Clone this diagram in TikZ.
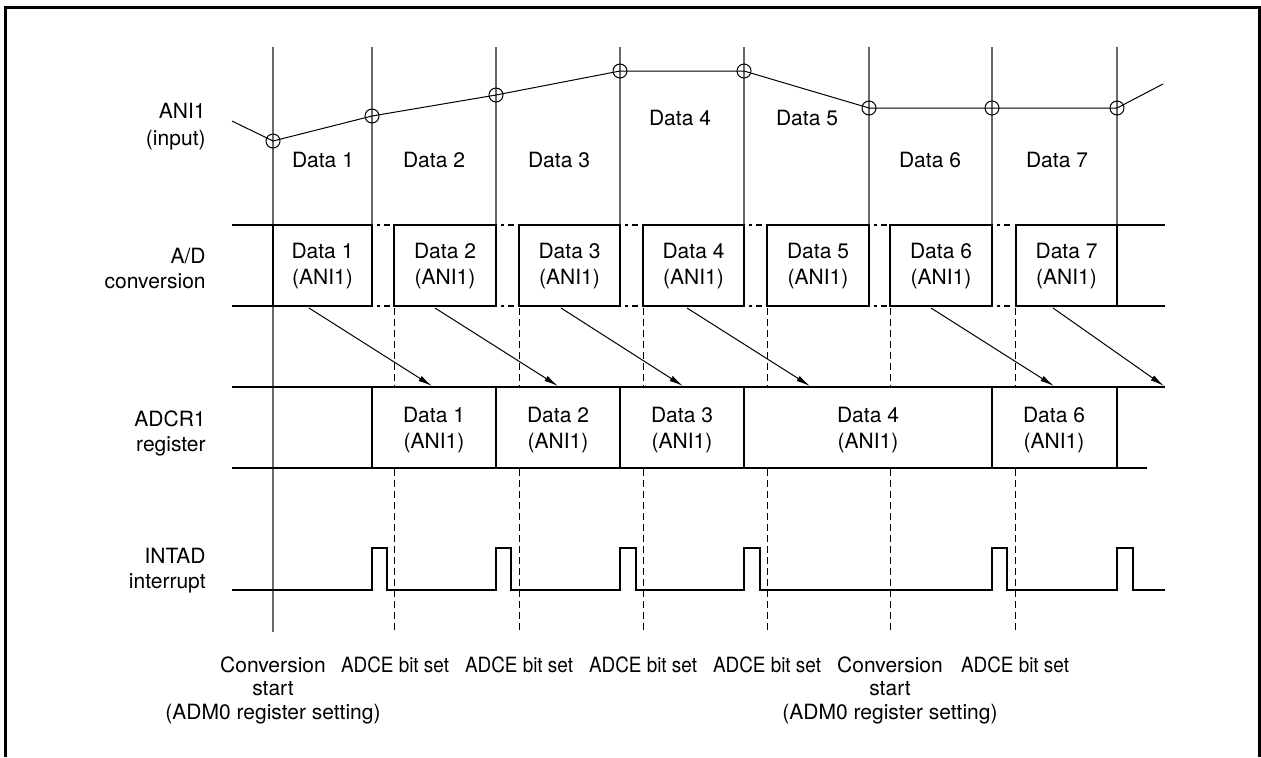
\documentclass[tikz,border=0pt]{standalone}
\usepackage{fontspec}
\setmainfont{TeX Gyre Heros}
\newfontfamily\narrowfont[FakeStretch=0.9]{TeX Gyre Heros}
\usepackage{tikz}
\usetikzlibrary{arrows.meta}
\definecolor{gridgray}{RGB}{105,105,105}

\begin{document}
\begin{tikzpicture}[x=0.5pt, y=-0.5pt,
  font=\fontsize{10.5}{12.5}\selectfont,
  sig/.style={line width=1.45pt},
  gapline/.style={line width=1.45pt, dash pattern=on 0pt off 2.5pt on 1.5pt off 2pt on 3pt off 0pt},
  gridline/.style={gridgray, line width=0.55pt},
  adce/.style={line width=0.5pt, dash pattern=on 3.5pt off 2pt},
  xfer/.style={line width=0.5pt, -{Latex[length=7pt,width=3pt]}},
  smp/.style={circle, draw, line width=0.5pt, minimum size=7pt, inner sep=0pt},
  lbl/.style={anchor=east, align=right, inner sep=0pt},
  dat/.style={align=center, inner sep=0pt, font=\fontsize{10.5}{13}\selectfont},
  bottomtext/.style={anchor=north, align=center, inner sep=0pt, font=\fontsize{10.5}{11.75}\selectfont},
  bittext/.style={bottomtext, font=\narrowfont\fontsize{10.5}{11.75}\selectfont}]
\useasboundingbox (0,0) rectangle (1261,757);
\draw[line width=1.5pt] (5,757) |- (1259,7) -- (1259,757);

% row labels
\node[lbl, font=\fontsize{10.5}{13.5}\selectfont] (l1) at (206,127) {ANI1\\(input)};
\node[lbl] (l2) at (206,268) {A/D\\conversion};
\node[lbl] (l3) at (206,433) {ADCR1\\register};
\node[lbl] (l4) at (206,571) {INTAD\\interrupt};

% sampling instants
\draw[gridline] (273,47) -- (273,632);
\draw[gridline] (372,47) -- (372,225);
\draw[gridline] (496,47) -- (496,225);
\draw[gridline] (620,47) -- (620,225);
\draw[gridline] (744,47) -- (744,225);
\draw[gridline] (869,47) -- (869,225);
\draw[gridline] (992,47) -- (992,225);
\draw[gridline] (1117,47) -- (1117,225);

% ANI1 input
\coordinate (w0) at (232,121);
\coordinate (w9) at (1163,84);
\node[smp] (p1) at (273,141) {};
\node[smp] (p2) at (372,116) {};
\node[smp] (p3) at (496,95) {};
\node[smp] (p4) at (620,71) {};
\node[smp] (p5) at (744,71) {};
\node[smp] (p6) at (869,108) {};
\node[smp] (p7) at (992,108) {};
\node[smp] (p8) at (1117,108) {};
\draw[line width=0.5pt] (w0) -- (p1.center) -- (p2.center) -- (p3.center) -- (p4.center)
  -- (p5.center) -- (p6.center) -- (p7.center) -- (p8.center) -- (w9);
\node (in1) at (323,160) {Data 1};
\node (in2) at (434,160) {Data 2};
\node (in3) at (559,160) {Data 3};
\node (in4) at (680,118) {Data 4};
\node (in5) at (807,118) {Data 5};
\node (in6) at (930,160) {Data 6};
\node (in7) at (1057,160) {Data 7};

% A/D conversion
\draw[sig] (232,225) -- (273,225);
\draw[sig] (232,306) -- (273,306);
\draw[sig] (273,225) rectangle (372,306);
\draw[gapline] (372,225) -- (394,225);
\draw[gapline] (372,306) -- (394,306);
\draw[sig] (394,225) rectangle (496,306);
\draw[gapline] (496,225) -- (519,225);
\draw[gapline] (496,306) -- (519,306);
\draw[sig] (519,225) rectangle (620,306);
\draw[gapline] (620,225) -- (643,225);
\draw[gapline] (620,306) -- (643,306);
\draw[sig] (643,225) rectangle (744,306);
\draw[gapline] (744,225) -- (767,225);
\draw[gapline] (744,306) -- (767,306);
\draw[sig] (767,225) rectangle (869,306);
\draw[gapline] (869,225) -- (890,225);
\draw[gapline] (869,306) -- (890,306);
\draw[sig] (890,225) rectangle (992,306);
\draw[gapline] (992,225) -- (1016,225);
\draw[gapline] (992,306) -- (1016,306);
\draw[sig] (1016,225) rectangle (1117,306);
\draw[sig] (1117,225) -- (1165,225);
\draw[sig] (1117,306) -- (1165,306);
\node[dat] (ad1) at (322.5,266) {Data 1\\(ANI1)};
\node[dat] (ad2) at (445,266) {Data 2\\(ANI1)};
\node[dat] (ad3) at (569.5,266) {Data 3\\(ANI1)};
\node[dat] (ad4) at (693.5,266) {Data 4\\(ANI1)};
\node[dat] (ad5) at (818,266) {Data 5\\(ANI1)};
\node[dat] (ad6) at (941,266) {Data 6\\(ANI1)};
\node[dat] (ad7) at (1066.5,266) {Data 7\\(ANI1)};

% ADCR1 register
\draw[sig] (232,387) -- (1165,387);
\draw[sig] (232,468) -- (1147,468);
\draw[sig] (372,387) -- (372,468);
\draw[sig] (496,387) -- (496,468);
\draw[sig] (620,387) -- (620,468);
\draw[sig] (744,387) -- (744,468);
\draw[sig] (992,387) -- (992,468);
\draw[sig] (1117,387) -- (1117,468);
\node[dat] (r1) at (434,430) {Data 1\\(ANI1)};
\node[dat] (r2) at (558,430) {Data 2\\(ANI1)};
\node[dat] (r3) at (682,430) {Data 3\\(ANI1)};
\node[dat] (r4) at (868,430) {Data 4\\(ANI1)};
\node[dat] (r6) at (1054,430) {Data 6\\(ANI1)};

% transfers to ADCR1
\coordinate (s1) at (309,308);  \coordinate (e1) at (432,386);
\coordinate (s2) at (435,308);  \coordinate (e2) at (558,386);
\coordinate (s3) at (561,308);  \coordinate (e3) at (683,386);
\coordinate (s4) at (687,308);  \coordinate (e4) at (810,386);
\coordinate (s6) at (931,308);  \coordinate (e6) at (1054,386);
\coordinate (s7) at (1053,308); \coordinate (e7) at (1164,386);
\draw[xfer] (s1) -- (e1);
\draw[xfer] (s2) -- (e2);
\draw[xfer] (s3) -- (e3);
\draw[xfer] (s4) -- (e4);
\draw[xfer] (s6) -- (e6);
\draw[xfer] (s7) -- (e7);

% INTAD
\draw[sig] (232,590) -- (372,590) -- (372,548) -- (387,548) -- (387,590)
  -- (496,590) -- (496,548) -- (511,548) -- (511,590)
  -- (620,590) -- (620,548) -- (636,548) -- (636,590)
  -- (744,590) -- (744,548) -- (760,548) -- (760,590)
  -- (992,590) -- (992,548) -- (1007,548) -- (1007,590)
  -- (1117,590) -- (1117,548) -- (1133,548) -- (1133,590) -- (1165,590);

% ADCE bit set / conversion start (broken across ADCR1)
\draw[adce] (394,308) -- (394,386) (394,469) -- (394,632);
\draw[adce] (519,308) -- (519,386) (519,469) -- (519,632);
\draw[adce] (643,308) -- (643,386) (643,469) -- (643,632);
\draw[adce] (767,308) -- (767,386) (767,469) -- (767,632);
\draw[adce] (890,308) -- (890,386) (890,469) -- (890,632);
\draw[adce] (1015,308) -- (1015,386) (1015,469) -- (1015,632);
\node[bottomtext] (c1) at (273,656) {Conversion\\start\\(ADM0 register setting)};
\node[bittext] (c2) at (395,656) {ADCE bit set};
\node[bittext] (c3) at (519,656) {ADCE bit set};
\node[bittext] (c4) at (643,656) {ADCE bit set};
\node[bittext] (c5) at (767,656) {ADCE bit set};
\node[bottomtext] (c6) at (890,656) {Conversion\\start\\(ADM0 register setting)};
\node[bittext] (c7) at (1015,656) {ADCE bit set};
\end{tikzpicture}
\end{document}
